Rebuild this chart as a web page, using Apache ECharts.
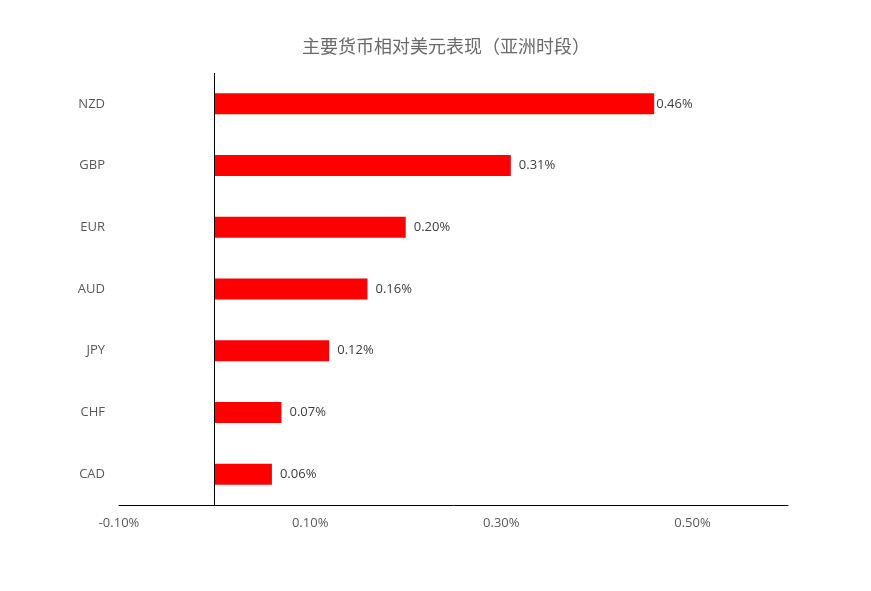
<!DOCTYPE html>
<html><head><meta charset="utf-8">
<script src="https://cdn.jsdelivr.net/npm/echarts@6/dist/echarts.min.js"></script>
<style>html,body{margin:0;padding:0;background:#fff}#c{width:871px;height:591px}</style>
</head><body><div id="c"></div>
<script>
const categories = ['NZD','GBP','EUR','AUD','JPY','CHF','CAD'];
const values = [0.46, 0.31, 0.20, 0.16, 0.12, 0.07, 0.06];
const chartTitle = '主要货币相对美元表现（亚洲时段）';

const seriesData = values.map((v, i) => i === 0 ? {value: v, label: {distance: 2}} : v);

const chart = echarts.init(document.getElementById('c'));
chart.setOption({
  backgroundColor: '#fff',
  animation: false,
  title: {
    text: chartTitle, left: 297, top: 32,
    textStyle: {fontFamily: 'Noto Sans CJK SC', fontSize: 18, fontWeight: 'normal', color: '#6a6a6a'}
  },
  grid: {left: 119, right: 83, top: 73, bottom: 86},
  xAxis: {
    type: 'value', min: -0.1, max: 0.6, interval: 0.1,
    axisLine: {show: true, onZero: false, lineStyle: {color: '#000', width: 1}},
    axisTick: {show: false},
    splitLine: {show: false},
    axisLabel: {
      margin: 12, color: '#595959', fontSize: 13, fontFamily: 'Open Sans',
      formatter: v => (Math.abs(Math.round(v * 10)) % 2 === 1) ? v.toFixed(2) + '%' : ''
    }
  },
  yAxis: {
    type: 'category', data: categories, inverse: true,
    axisLine: {show: false, onZero: false},
    axisTick: {show: false},
    axisLabel: {margin: 14, color: '#595959', fontSize: 13, fontFamily: 'Open Sans'}
  },
  series: [{
    type: 'bar', data: seriesData, barWidth: 21,
    itemStyle: {color: '#ff0000'},
    label: {
      show: true, position: 'right', distance: 8, color: '#404040', fontSize: 13, fontFamily: 'Open Sans',
      formatter: p => p.value.toFixed(2) + '%'
    },
    markLine: {
      silent: true, symbol: 'none', label: {show: false},
      lineStyle: {color: '#000', width: 1, type: 'solid'},
      data: [{xAxis: 0}]
    }
  }]
});
</script></body></html>
